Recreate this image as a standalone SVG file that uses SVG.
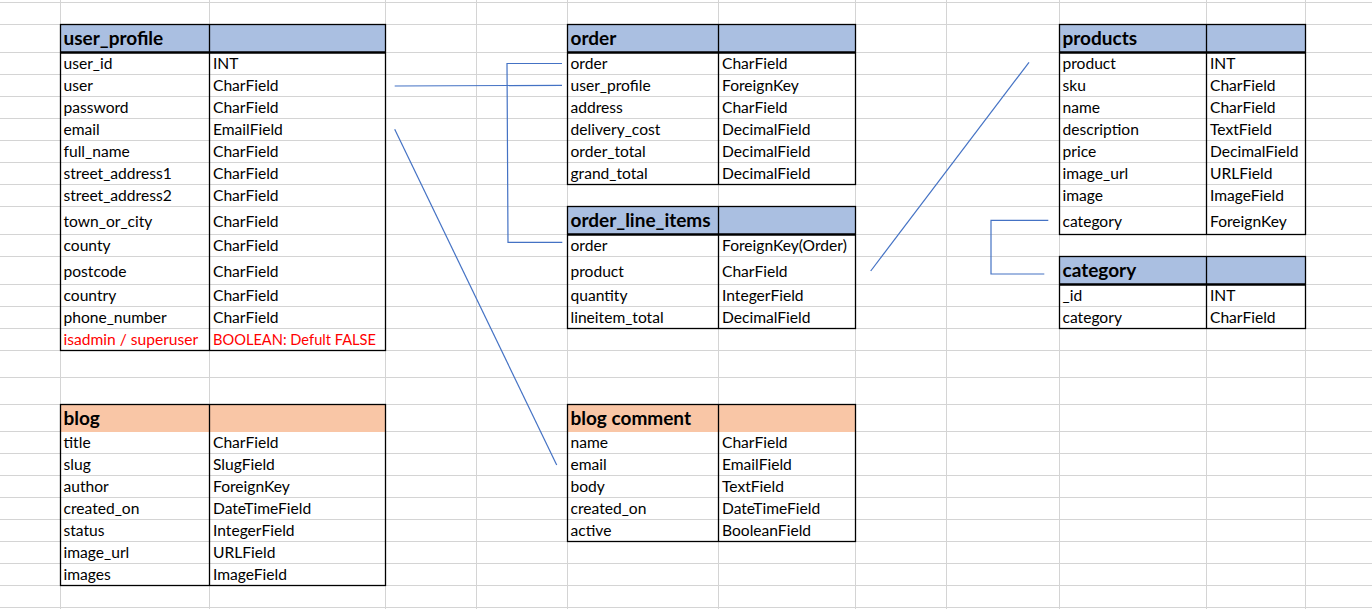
<svg xmlns="http://www.w3.org/2000/svg" width="1372" height="609" viewBox="0 0 1372 609">
<style>
.grid line{stroke:#d4d4d4;stroke-width:1}
.hb{fill:#aabfe1}
.ho{fill:#f9c6a6}
.bd{fill:none;stroke:#000;stroke-width:1.3}
.ml{stroke:#000;stroke-width:1.3}
.tl{stroke:#000;stroke-width:2.4}
text{font-family:Lato,"Liberation Sans",sans-serif;font-size:15.6px;fill:#000}
text.h{font-weight:bold;font-size:19px}
text.r{fill:#ff0000}
.conn path{fill:none;stroke:#4472c4;stroke-width:1.2}
</style>
<rect x="0" y="0" width="1372" height="609" fill="#fff"/>
<g class="grid">
<line x1="0" y1="2.5" x2="1372" y2="2.5"/><line x1="0" y1="24.5" x2="1372" y2="24.5"/><line x1="0" y1="52.5" x2="1372" y2="52.5"/><line x1="0" y1="74.5" x2="1372" y2="74.5"/><line x1="0" y1="96.5" x2="1372" y2="96.5"/><line x1="0" y1="118.5" x2="1372" y2="118.5"/><line x1="0" y1="140.5" x2="1372" y2="140.5"/><line x1="0" y1="162.5" x2="1372" y2="162.5"/><line x1="0" y1="184.5" x2="1372" y2="184.5"/><line x1="0" y1="206.5" x2="1372" y2="206.5"/><line x1="0" y1="234.5" x2="1372" y2="234.5"/><line x1="0" y1="256.5" x2="1372" y2="256.5"/><line x1="0" y1="284.5" x2="1372" y2="284.5"/><line x1="0" y1="306.5" x2="1372" y2="306.5"/><line x1="0" y1="328.5" x2="1372" y2="328.5"/><line x1="0" y1="350.5" x2="1372" y2="350.5"/><line x1="0" y1="377.5" x2="1372" y2="377.5"/><line x1="0" y1="404.5" x2="1372" y2="404.5"/><line x1="0" y1="431.5" x2="1372" y2="431.5"/><line x1="0" y1="453.5" x2="1372" y2="453.5"/><line x1="0" y1="475.5" x2="1372" y2="475.5"/><line x1="0" y1="497.5" x2="1372" y2="497.5"/><line x1="0" y1="519.5" x2="1372" y2="519.5"/><line x1="0" y1="541.5" x2="1372" y2="541.5"/><line x1="0" y1="563.5" x2="1372" y2="563.5"/><line x1="0" y1="585.5" x2="1372" y2="585.5"/><line x1="0" y1="607.5" x2="1372" y2="607.5"/>
<line x1="60.5" y1="0" x2="60.5" y2="609"/><line x1="209.5" y1="0" x2="209.5" y2="609"/><line x1="385.5" y1="0" x2="385.5" y2="609"/><line x1="476.5" y1="0" x2="476.5" y2="609"/><line x1="567.5" y1="0" x2="567.5" y2="609"/><line x1="718.5" y1="0" x2="718.5" y2="609"/><line x1="855.5" y1="0" x2="855.5" y2="609"/><line x1="946.5" y1="0" x2="946.5" y2="609"/><line x1="1059.5" y1="0" x2="1059.5" y2="609"/><line x1="1206.5" y1="0" x2="1206.5" y2="609"/><line x1="1305.5" y1="0" x2="1305.5" y2="609"/>
</g>

<g id="user_profile">
<rect class="hb" x="60.5" y="24.5" width="325" height="28"/>
<rect class="bd" x="60.5" y="24.5" width="325" height="326"/>
<line class="ml" x1="209.5" y1="24.5" x2="209.5" y2="350.5"/>
<line class="tl" x1="60.5" y1="52.5" x2="385.5" y2="52.5"/>
<text class="h" x="63.5" y="44.5">user_profile</text>
<text x="63.5" y="69">user_id</text><text x="213" y="69">INT</text>
<text x="63.5" y="91">user</text><text x="213" y="91">CharField</text>
<text x="63.5" y="113">password</text><text x="213" y="113">CharField</text>
<text x="63.5" y="135">email</text><text x="213" y="135">EmailField</text>
<text x="63.5" y="157">full_name</text><text x="213" y="157">CharField</text>
<text x="63.5" y="179">street_address1</text><text x="213" y="179">CharField</text>
<text x="63.5" y="201">street_address2</text><text x="213" y="201">CharField</text>
<text x="63.5" y="226.5">town_or_city</text><text x="213" y="226.5">CharField</text>
<text x="63.5" y="251">county</text><text x="213" y="251">CharField</text>
<text x="63.5" y="276.5">postcode</text><text x="213" y="276.5">CharField</text>
<text x="63.5" y="301">country</text><text x="213" y="301">CharField</text>
<text x="63.5" y="323">phone_number</text><text x="213" y="323">CharField</text>
<text class="r" x="63.5" y="345">isadmin / superuser</text><text class="r" x="213" y="345" textLength="163" lengthAdjust="spacingAndGlyphs">BOOLEAN: Defult FALSE</text>
</g>

<g id="order">
<rect class="hb" x="567.5" y="24.5" width="288" height="28"/>
<rect class="bd" x="567.5" y="24.5" width="288" height="160"/>
<line class="ml" x1="718.5" y1="24.5" x2="718.5" y2="184.5"/>
<line class="tl" x1="567.5" y1="52.5" x2="855.5" y2="52.5"/>
<text class="h" x="570.5" y="44.5">order</text>
<text x="570.5" y="69">order</text><text x="722" y="69">CharField</text>
<text x="570.5" y="91">user_profile</text><text x="722" y="91">ForeignKey</text>
<text x="570.5" y="113">address</text><text x="722" y="113">CharField</text>
<text x="570.5" y="135">delivery_cost</text><text x="722" y="135">DecimalField</text>
<text x="570.5" y="157">order_total</text><text x="722" y="157">DecimalField</text>
<text x="570.5" y="179">grand_total</text><text x="722" y="179">DecimalField</text>
</g>

<g id="order_line_items">
<rect class="hb" x="567.5" y="206.5" width="288" height="28"/>
<rect class="bd" x="567.5" y="206.5" width="288" height="122"/>
<line class="ml" x1="718.5" y1="206.5" x2="718.5" y2="328.5"/>
<line class="tl" x1="567.5" y1="234.5" x2="855.5" y2="234.5"/>
<text class="h" x="570.5" y="226.5">order_line_items</text>
<text x="570.5" y="251">order</text><text x="722" y="251">ForeignKey(Order)</text>
<text x="570.5" y="276.5">product</text><text x="722" y="276.5">CharField</text>
<text x="570.5" y="301">quantity</text><text x="722" y="301">IntegerField</text>
<text x="570.5" y="323">lineitem_total</text><text x="722" y="323">DecimalField</text>
</g>

<g id="products">
<rect class="hb" x="1059.5" y="24.5" width="246" height="28"/>
<rect class="bd" x="1059.5" y="24.5" width="246" height="210"/>
<line class="ml" x1="1206.5" y1="24.5" x2="1206.5" y2="234.5"/>
<line class="tl" x1="1059.5" y1="52.5" x2="1305.5" y2="52.5"/>
<text class="h" x="1062.5" y="44.5">products</text>
<text x="1062.5" y="69">product</text><text x="1210" y="69">INT</text>
<text x="1062.5" y="91">sku</text><text x="1210" y="91">CharField</text>
<text x="1062.5" y="113">name</text><text x="1210" y="113">CharField</text>
<text x="1062.5" y="135">description</text><text x="1210" y="135">TextField</text>
<text x="1062.5" y="157">price</text><text x="1210" y="157">DecimalField</text>
<text x="1062.5" y="179">image_url</text><text x="1210" y="179">URLField</text>
<text x="1062.5" y="201">image</text><text x="1210" y="201">ImageField</text>
<text x="1062.5" y="226.5">category</text><text x="1210" y="226.5">ForeignKey</text>
</g>

<g id="category">
<rect class="hb" x="1059.5" y="256.5" width="246" height="28"/>
<rect class="bd" x="1059.5" y="256.5" width="246" height="72"/>
<line class="ml" x1="1206.5" y1="256.5" x2="1206.5" y2="328.5"/>
<line class="tl" x1="1059.5" y1="284.5" x2="1305.5" y2="284.5"/>
<text class="h" x="1062.5" y="276.5">category</text>
<text x="1062.5" y="301">_id</text><text x="1210" y="301">INT</text>
<text x="1062.5" y="323">category</text><text x="1210" y="323">CharField</text>
</g>

<g id="blog">
<rect class="ho" x="60.5" y="404.5" width="325" height="27.5"/>
<rect class="bd" x="60.5" y="404.5" width="325" height="181"/>
<line class="ml" x1="209.5" y1="404.5" x2="209.5" y2="585.5"/>
<text class="h" x="63.5" y="424.5">blog</text>
<text x="63.5" y="448">title</text><text x="213" y="448">CharField</text>
<text x="63.5" y="470">slug</text><text x="213" y="470">SlugField</text>
<text x="63.5" y="492">author</text><text x="213" y="492">ForeignKey</text>
<text x="63.5" y="514">created_on</text><text x="213" y="514">DateTimeField</text>
<text x="63.5" y="536">status</text><text x="213" y="536">IntegerField</text>
<text x="63.5" y="558">image_url</text><text x="213" y="558">URLField</text>
<text x="63.5" y="580">images</text><text x="213" y="580">ImageField</text>
</g>

<g id="blog_comment">
<rect class="ho" x="567.5" y="404.5" width="288" height="27.5"/>
<rect class="bd" x="567.5" y="404.5" width="288" height="137"/>
<line class="ml" x1="718.5" y1="404.5" x2="718.5" y2="541.5"/>
<text class="h" x="570.5" y="424.5">blog comment</text>
<text x="570.5" y="448">name</text><text x="722" y="448">CharField</text>
<text x="570.5" y="470">email</text><text x="722" y="470">EmailField</text>
<text x="570.5" y="492">body</text><text x="722" y="492">TextField</text>
<text x="570.5" y="514">created_on</text><text x="722" y="514">DateTimeField</text>
<text x="570.5" y="536">active</text><text x="722" y="536">BooleanField</text>
</g>

<g class="conn" id="connectors">
<path d="M394.7 86 L562 85.3"/>
<path d="M562 63.5 L507 63.5 L508 242.3 L562.3 242.3"/>
<path d="M394.7 129.3 L556.7 465"/>
<path d="M870.7 271 L1029 62.3"/>
<path d="M1048.3 220.3 L991 220.3 L991 274 L1044.3 274"/>
</g>
</svg>
